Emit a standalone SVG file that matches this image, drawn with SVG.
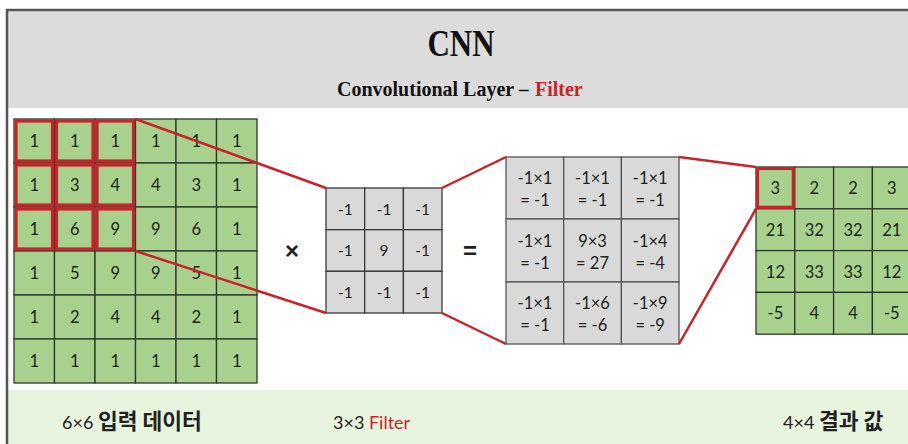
<svg xmlns="http://www.w3.org/2000/svg" width="908" height="444" viewBox="0 0 908 444">
  <style>
    .frame { stroke: #555; stroke-width: 2.5; fill: none; }
    .gcell { fill: #a9d18e; stroke: #2b3a28; stroke-width: 1.3; }
    .fcell { fill: #d9d9d9; stroke: #3a3a3a; stroke-width: 1.3; }
    .rcell { fill: #d9d9d9; stroke: #555; stroke-width: 1.3; }
    .hl { fill: none; stroke: #c8232a; stroke-width: 3.2; }
    .num { font-family: Lato, "Open Sans", sans-serif; font-size: 16.5px; fill: #1a2616; text-anchor: middle; }
    .fnum { font-family: Lato, "Open Sans", sans-serif; font-size: 15.5px; fill: #222; text-anchor: middle; }
    .rnum { font-family: Lato, "Open Sans", sans-serif; font-size: 16.5px; fill: #222; text-anchor: middle; }
    .op { font-family: "Liberation Sans", Arial, sans-serif; font-size: 24px; font-weight: bold; fill: #222; text-anchor: middle; }
    .title { font-family: "Liberation Serif", "Times New Roman", serif; font-weight: bold; fill: #111; }
    .cap { font-family: Lato, "Noto Sans CJK KR", sans-serif; font-size: 18px; fill: #222; }
    .ko { font-family: "Noto Sans CJK KR", sans-serif; font-weight: bold; font-size: 21.5px; }
    .red { fill: #c8232a; }
    .conn line { stroke: #c8232a; stroke-width: 2.5; }
  </style>

  <!-- page background, header and footer bands -->
  <rect x="0" y="0" width="908" height="444" fill="#ffffff"/>
  <rect x="7" y="10" width="901" height="98" fill="#dcdcdc"/>
  <rect x="8" y="390" width="900" height="54" fill="#e7f4de"/>
  <path class="frame" d="M7 444 V10 H908"/>

  <!-- heading glyphs are drawn tall and narrow -->
  <g id="header">
    <text class="title" transform="translate(461 56) scale(1 1.2)" text-anchor="middle" font-size="31">CNN</text>
    <text class="title" transform="translate(337 96) scale(1 1.1)" font-size="20">Convolutional Layer –</text>
    <text class="title red" transform="translate(535 96) scale(1 1.1)" font-size="20">Filter</text>
  </g>

  <!-- 6x6 input -->
  <g id="input">
    <g>
      <rect class="gcell" x="14" y="119" width="40.5" height="44"/><rect class="gcell" x="54.5" y="119" width="40.5" height="44"/><rect class="gcell" x="95" y="119" width="40.5" height="44"/><rect class="gcell" x="135.5" y="119" width="40.5" height="44"/><rect class="gcell" x="176" y="119" width="40.5" height="44"/><rect class="gcell" x="216.5" y="119" width="40.5" height="44"/>
      <rect class="gcell" x="14" y="163" width="40.5" height="44"/><rect class="gcell" x="54.5" y="163" width="40.5" height="44"/><rect class="gcell" x="95" y="163" width="40.5" height="44"/><rect class="gcell" x="135.5" y="163" width="40.5" height="44"/><rect class="gcell" x="176" y="163" width="40.5" height="44"/><rect class="gcell" x="216.5" y="163" width="40.5" height="44"/>
      <rect class="gcell" x="14" y="207" width="40.5" height="44"/><rect class="gcell" x="54.5" y="207" width="40.5" height="44"/><rect class="gcell" x="95" y="207" width="40.5" height="44"/><rect class="gcell" x="135.5" y="207" width="40.5" height="44"/><rect class="gcell" x="176" y="207" width="40.5" height="44"/><rect class="gcell" x="216.5" y="207" width="40.5" height="44"/>
      <rect class="gcell" x="14" y="251" width="40.5" height="44"/><rect class="gcell" x="54.5" y="251" width="40.5" height="44"/><rect class="gcell" x="95" y="251" width="40.5" height="44"/><rect class="gcell" x="135.5" y="251" width="40.5" height="44"/><rect class="gcell" x="176" y="251" width="40.5" height="44"/><rect class="gcell" x="216.5" y="251" width="40.5" height="44"/>
      <rect class="gcell" x="14" y="295" width="40.5" height="44"/><rect class="gcell" x="54.5" y="295" width="40.5" height="44"/><rect class="gcell" x="95" y="295" width="40.5" height="44"/><rect class="gcell" x="135.5" y="295" width="40.5" height="44"/><rect class="gcell" x="176" y="295" width="40.5" height="44"/><rect class="gcell" x="216.5" y="295" width="40.5" height="44"/>
      <rect class="gcell" x="14" y="339" width="40.5" height="44"/><rect class="gcell" x="54.5" y="339" width="40.5" height="44"/><rect class="gcell" x="95" y="339" width="40.5" height="44"/><rect class="gcell" x="135.5" y="339" width="40.5" height="44"/><rect class="gcell" x="176" y="339" width="40.5" height="44"/><rect class="gcell" x="216.5" y="339" width="40.5" height="44"/>
    </g>
    <!-- 3x3 receptive field -->
    <g>
      <rect class="hl" x="16" y="121" width="36.5" height="40"/><rect class="hl" x="56.5" y="121" width="36.5" height="40"/><rect class="hl" x="97" y="121" width="36.5" height="40"/>
      <rect class="hl" x="16" y="165" width="36.5" height="40"/><rect class="hl" x="56.5" y="165" width="36.5" height="40"/><rect class="hl" x="97" y="165" width="36.5" height="40"/>
      <rect class="hl" x="16" y="209" width="36.5" height="40"/><rect class="hl" x="56.5" y="209" width="36.5" height="40"/><rect class="hl" x="97" y="209" width="36.5" height="40"/>
    </g>
    <g class="num">
      <text x="34.25" y="147">1</text><text x="74.75" y="147">1</text><text x="115.25" y="147">1</text><text x="155.75" y="147">1</text><text x="196.25" y="147">1</text><text x="236.75" y="147">1</text>
      <text x="34.25" y="191">1</text><text x="74.75" y="191">3</text><text x="115.25" y="191">4</text><text x="155.75" y="191">4</text><text x="196.25" y="191">3</text><text x="236.75" y="191">1</text>
      <text x="34.25" y="235">1</text><text x="74.75" y="235">6</text><text x="115.25" y="235">9</text><text x="155.75" y="235">9</text><text x="196.25" y="235">6</text><text x="236.75" y="235">1</text>
      <text x="34.25" y="279">1</text><text x="74.75" y="279">5</text><text x="115.25" y="279">9</text><text x="155.75" y="279">9</text><text x="196.25" y="279">5</text><text x="236.75" y="279">1</text>
      <text x="34.25" y="323">1</text><text x="74.75" y="323">2</text><text x="115.25" y="323">4</text><text x="155.75" y="323">4</text><text x="196.25" y="323">2</text><text x="236.75" y="323">1</text>
      <text x="34.25" y="367">1</text><text x="74.75" y="367">1</text><text x="115.25" y="367">1</text><text x="155.75" y="367">1</text><text x="196.25" y="367">1</text><text x="236.75" y="367">1</text>
    </g>
  </g>

  <g id="times"><text class="op" x="292" y="259">×</text></g>

  <!-- 3x3 filter -->
  <g id="filter">
    <rect class="fcell" x="326" y="188" width="38.7" height="41.7"/><rect class="fcell" x="364.7" y="188" width="38.7" height="41.7"/><rect class="fcell" x="403.4" y="188" width="38.6" height="41.7"/>
    <rect class="fcell" x="326" y="229.7" width="38.7" height="41.6"/><rect class="fcell" x="364.7" y="229.7" width="38.7" height="41.6"/><rect class="fcell" x="403.4" y="229.7" width="38.6" height="41.6"/>
    <rect class="fcell" x="326" y="271.3" width="38.7" height="41.7"/><rect class="fcell" x="364.7" y="271.3" width="38.7" height="41.7"/><rect class="fcell" x="403.4" y="271.3" width="38.6" height="41.7"/>
    <g class="fnum">
      <text x="345.3" y="214.5">-1</text><text x="384" y="214.5">-1</text><text x="422.7" y="214.5">-1</text>
      <text x="345.3" y="256">-1</text><text x="384" y="256">9</text><text x="422.7" y="256">-1</text>
      <text x="345.3" y="297.5">-1</text><text x="384" y="297.5">-1</text><text x="422.7" y="297.5">-1</text>
    </g>
  </g>

  <g id="equals"><text class="op" x="470" y="259">=</text></g>

  <!-- element-wise products -->
  <g id="products">
    <rect class="rcell" x="506" y="157" width="57.7" height="62"/><rect class="rcell" x="563.7" y="157" width="57.7" height="62"/><rect class="rcell" x="621.4" y="157" width="57.6" height="62"/>
    <rect class="rcell" x="506" y="219" width="57.7" height="63"/><rect class="rcell" x="563.7" y="219" width="57.7" height="63"/><rect class="rcell" x="621.4" y="219" width="57.6" height="63"/>
    <rect class="rcell" x="506" y="282" width="57.7" height="62"/><rect class="rcell" x="563.7" y="282" width="57.7" height="62"/><rect class="rcell" x="621.4" y="282" width="57.6" height="62"/>
    <g class="rnum">
      <text x="535" y="184">-1×1</text><text x="535" y="206">= -1</text>
      <text x="592.5" y="184">-1×1</text><text x="592.5" y="206">= -1</text>
      <text x="650.2" y="184">-1×1</text><text x="650.2" y="206">= -1</text>
      <text x="535" y="247">-1×1</text><text x="535" y="269">= -1</text>
      <text x="592.5" y="247">9×3</text><text x="592.5" y="269">= 27</text>
      <text x="650.2" y="247">-1×4</text><text x="650.2" y="269">= -4</text>
      <text x="535" y="309">-1×1</text><text x="535" y="331">= -1</text>
      <text x="592.5" y="309">-1×6</text><text x="592.5" y="331">= -6</text>
      <text x="650.2" y="309">-1×9</text><text x="650.2" y="331">= -9</text>
    </g>
  </g>

  <!-- 4x4 output -->
  <g id="output">
    <rect class="gcell" x="756" y="167" width="38.8" height="41.8"/><rect class="gcell" x="794.8" y="167" width="38.8" height="41.8"/><rect class="gcell" x="833.6" y="167" width="38.8" height="41.8"/><rect class="gcell" x="872.4" y="167" width="38.8" height="41.8"/>
    <rect class="gcell" x="756" y="208.8" width="38.8" height="41.8"/><rect class="gcell" x="794.8" y="208.8" width="38.8" height="41.8"/><rect class="gcell" x="833.6" y="208.8" width="38.8" height="41.8"/><rect class="gcell" x="872.4" y="208.8" width="38.8" height="41.8"/>
    <rect class="gcell" x="756" y="250.6" width="38.8" height="41.8"/><rect class="gcell" x="794.8" y="250.6" width="38.8" height="41.8"/><rect class="gcell" x="833.6" y="250.6" width="38.8" height="41.8"/><rect class="gcell" x="872.4" y="250.6" width="38.8" height="41.8"/>
    <rect class="gcell" x="756" y="292.4" width="38.8" height="41.8"/><rect class="gcell" x="794.8" y="292.4" width="38.8" height="41.8"/><rect class="gcell" x="833.6" y="292.4" width="38.8" height="41.8"/><rect class="gcell" x="872.4" y="292.4" width="38.8" height="41.8"/>
    <rect class="hl" x="757.5" y="168.5" width="35.8" height="38.8"/>
    <g class="num">
      <text x="775.4" y="194">3</text><text x="814.2" y="194">2</text><text x="853" y="194">2</text><text x="891.8" y="194">3</text>
      <text x="775.4" y="236">21</text><text x="814.2" y="236">32</text><text x="853" y="236">32</text><text x="891.8" y="236">21</text>
      <text x="775.4" y="277.5">12</text><text x="814.2" y="277.5">33</text><text x="853" y="277.5">33</text><text x="891.8" y="277.5">12</text>
      <text x="775.4" y="319">-5</text><text x="814.2" y="319">4</text><text x="853" y="319">4</text><text x="891.8" y="319">-5</text>
    </g>
  </g>

  <!-- projection lines -->
  <g id="connectors" class="conn">
    <line x1="135.5" y1="119" x2="326" y2="188"/>
    <line x1="135.5" y1="251" x2="326" y2="313"/>
    <line x1="442" y1="188" x2="506" y2="157"/>
    <line x1="442" y1="313" x2="506" y2="344"/>
    <line x1="679" y1="157" x2="756" y2="167"/>
    <line x1="679" y1="344" x2="756" y2="208.8"/>
  </g>

  <g id="captions" class="cap">
    <text x="62" y="429">6×6 <tspan class="ko">입력 데이터</tspan></text>
    <text x="333" y="429">3×3 <tspan class="red">Filter</tspan></text>
    <text x="783" y="429">4×4 <tspan class="ko">결과 값</tspan></text>
  </g>
</svg>
